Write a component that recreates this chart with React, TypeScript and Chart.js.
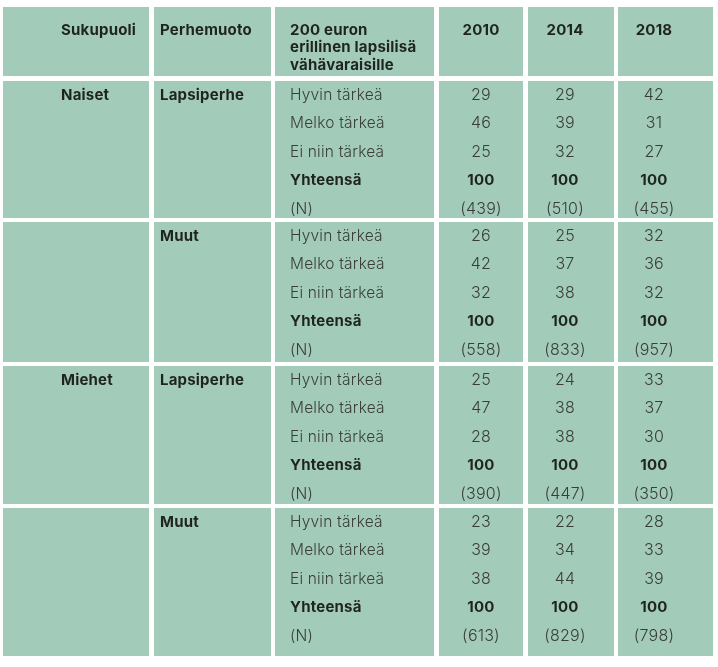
import React, { useEffect, useRef } from 'react';
import { Chart, registerables } from 'chart.js';
Chart.register(...registerables);

// ---- data ----
const headerSukupuoli = 'Sukupuoli';
const headerPerhemuoto = 'Perhemuoto';
const headerQuestion = ['200 euron', 'erillinen lapsilisä', 'vähävaraisille'];
const years = ['2010', '2014', '2018'];
const groupGender = ['Naiset', '', 'Miehet', ''];
const groupFamily = ['Lapsiperhe', 'Muut', 'Lapsiperhe', 'Muut'];
const answers = ['Hyvin tärkeä', 'Melko tärkeä', 'Ei niin tärkeä'];
const totalLabel = 'Yhteensä';
const nLabel = '(N)';

// values by year: [Hyvin, Melko, Ei niin]
const naisetLapsiperhe = [[29, 46, 25], [29, 39, 32], [42, 31, 27]];
const naisetMuut = [[26, 42, 32], [25, 37, 38], [32, 36, 32]];
const miehetLapsiperhe = [[25, 47, 28], [24, 38, 38], [33, 37, 30]];
const miehetMuut = [[23, 39, 38], [22, 34, 44], [28, 33, 39]];
const totals = [100, 100, 100];
const naisetLapsiperheN = [439, 510, 455];
const naisetMuutN = [558, 833, 957];
const miehetLapsiperheN = [390, 447, 350];
const miehetMuutN = [613, 829, 798];

const groupValues = [naisetLapsiperhe, naisetMuut, miehetLapsiperhe, miehetMuut];
const groupN = [naisetLapsiperheN, naisetMuutN, miehetLapsiperheN, miehetMuutN];

// ---- layout (scale units) ----
const W = 718;
const H = 667;
const colEdges = [[3, 149], [154, 271], [275, 434], [439, 523], [528, 614], [618, 713]];
const blockEdges = [[7, 76], [81, 218], [222, 362], [366, 504], [508, 656]];
const textX = [61, 160, 290];
const yearX = [481, 565, 654];
const rowOffset = 14;
const rowStep = 28.5;
const headerLineY = [30, 47.5, 65];

const BG = '#a3cbb9';
const DARK = '#1f2421';
const LIGHT = '#3a3d3b';
const FONT = 'Inter, "Noto Sans", sans-serif';

const tablePlugin = {
  id: 'tableDraw',
  afterDraw(chart: any) {
    const ctx = chart.ctx;
    const xs = chart.scales.x;
    const ys = chart.scales.y;
    const px = (v: number) => xs.getPixelForValue(v);
    const py = (v: number) => ys.getPixelForValue(v);
    ctx.save();
    // cells
    ctx.fillStyle = BG;
    blockEdges.forEach(([t, b]) => {
      colEdges.forEach(([l, r]) => {
        ctx.fillRect(px(l), py(t), px(r) - px(l), py(b) - py(t));
      });
    });
    ctx.textBaseline = 'middle';
    const bold = `700 15px ${FONT}`;
    const light = `300 15.5px ${FONT}`;
    const lightNum = `300 16px ${FONT}`;
    try { (ctx as any).letterSpacing = '0.2px'; } catch (e) { /* ignore */ }
    // header
    ctx.font = bold;
    ctx.fillStyle = DARK;
    ctx.textAlign = 'left';
    ctx.fillText(headerSukupuoli, px(textX[0]), py(headerLineY[0]));
    ctx.fillText(headerPerhemuoto, px(textX[1]), py(headerLineY[0]));
    headerQuestion.forEach((line, i) => ctx.fillText(line, px(textX[2]), py(headerLineY[i])));
    ctx.textAlign = 'center';
    years.forEach((yr, i) => ctx.fillText(yr, px(yearX[i]), py(headerLineY[0])));
    // groups
    groupValues.forEach((vals, g) => {
      const top = blockEdges[g + 1][0];
      const rowY = (r: number) => py(top + rowOffset + r * rowStep);
      ctx.textAlign = 'left';
      ctx.font = bold;
      ctx.fillStyle = DARK;
      if (groupGender[g]) ctx.fillText(groupGender[g], px(textX[0]), rowY(0));
      ctx.fillText(groupFamily[g], px(textX[1]), rowY(0));
      ctx.font = light;
      ctx.fillStyle = LIGHT;
      answers.forEach((a, r) => ctx.fillText(a, px(textX[2]), rowY(r)));
      ctx.fillText(nLabel, px(textX[2]), rowY(4));
      ctx.font = bold;
      ctx.fillStyle = DARK;
      ctx.fillText(totalLabel, px(textX[2]), rowY(3));
      ctx.textAlign = 'center';
      years.forEach((_, yi) => {
        ctx.font = lightNum;
        ctx.fillStyle = LIGHT;
        vals[yi].forEach((v, r) => ctx.fillText(String(v), px(yearX[yi]), rowY(r)));
        ctx.fillText(`(${groupN[g][yi]})`, px(yearX[yi]), rowY(4));
        ctx.font = bold;
        ctx.fillStyle = DARK;
        ctx.fillText(String(totals[yi]), px(yearX[yi]), rowY(3));
      });
    });
    ctx.restore();
  },
};

export default function App() {
  const ref = useRef<HTMLCanvasElement>(null);
  useEffect(() => {
    if (!ref.current) return;
    const chart = new Chart(ref.current, {
      type: 'scatter',
      data: { datasets: [{ data: [], pointRadius: 0 }] },
      options: {
        animation: false,
        responsive: false,
        layout: { padding: 0 },
        plugins: { legend: { display: false }, tooltip: { enabled: false } },
        scales: {
          x: { type: 'linear', min: 0, max: W, display: false },
          y: { type: 'linear', min: 0, max: H, reverse: true, display: false },
        },
      },
      plugins: [tablePlugin],
    });
    return () => chart.destroy();
  }, []);
  return (
    <div style={{ position: 'absolute', left: 0, top: 0, width: W, height: H, background: '#fff' }}>
      <canvas ref={ref} width={W} height={H} style={{ width: W, height: H, display: 'block' }} />
    </div>
  );
}
